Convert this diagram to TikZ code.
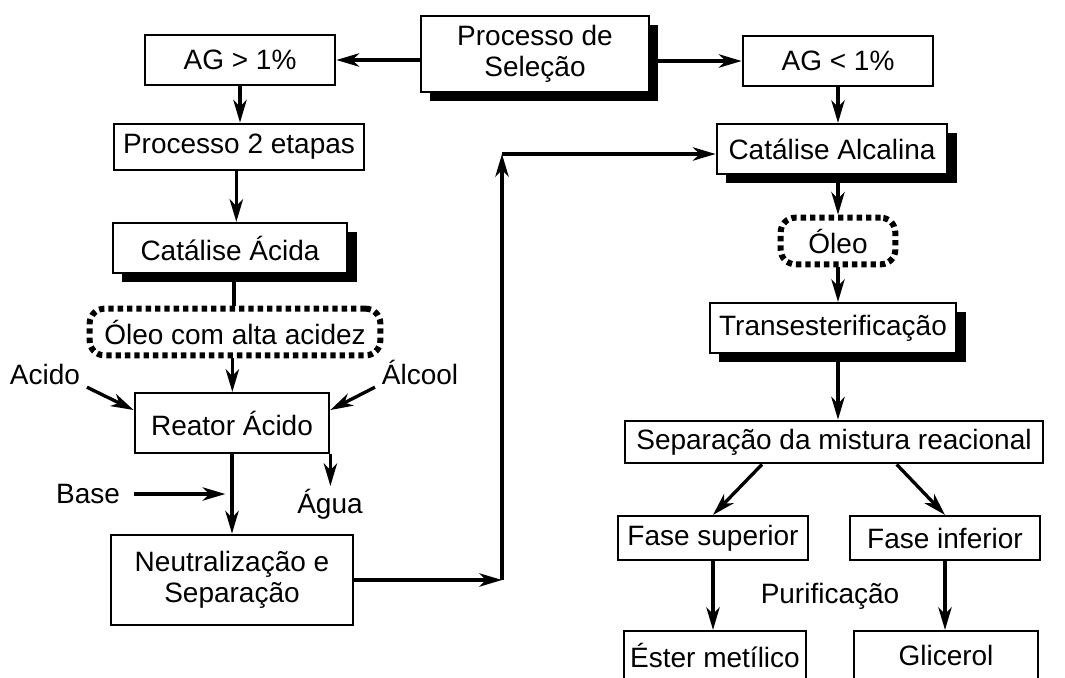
\documentclass[tikz,border=0pt]{standalone}
\usepackage{fontspec}
\setmainfont{Liberation Sans}
\usetikzlibrary{arrows.meta,shadows}

\tikzset{
  box/.style={draw, line width=1.6pt, fill=white, inner sep=0pt, align=center},
  shbox/.style={box, drop shadow={shadow xshift=7pt, shadow yshift=-7pt, fill=black, opacity=1}},
  oil/.style={draw, line width=4.5pt, dash pattern=on 4pt off 3pt, rounded corners=11pt, inner sep=0pt},
  lbl/.style={inner sep=2pt},
  arr/.style={line width=2.5pt, -{Stealth[length=17pt,width=10pt,inset=5pt]}},
  ln/.style={line width=2.5pt}
}

\begin{document}
\begin{tikzpicture}[x=0.75pt, y=-0.75pt, font=\fontsize{21pt}{23pt}\selectfont]

    \useasboundingbox (0,0) rectangle (1065,678);

    \node[shbox, minimum width=171pt, minimum height=57pt] (sel) at (535, 54) {Processo de\\Seleção};
    \node[box, minimum width=143pt, minimum height=37pt] (ag1) at (240, 60) {AG > 1\%};
    \node[box, minimum width=143pt, minimum height=37pt] (ag2) at (838, 61) {AG < 1\%};
    \node[box, minimum width=187pt, minimum height=35pt] (etapas) at (239, 147) {Processo 2 etapas};
    \node[shbox, minimum width=176pt, minimum height=37.5pt] (acida) at (230, 248) {Catálise Ácida};
    \node[shbox, minimum width=173pt, minimum height=37.5pt] (alcal) at (832, 149) {Catálise Alcalina};
    \node[oil, minimum width=86pt, minimum height=35pt] (oleo) at (838, 241) {Óleo};
    \node[oil, minimum width=218pt, minimum height=35pt] (oleoac) at (235, 332) {Óleo com alta acidez};
    \node[box, minimum width=146pt, minimum height=45pt] (reator) at (232, 423) {Reator Ácido};
    \node[box, minimum width=182pt, minimum height=68pt] (neutr) at (232, 580) {Neutralização e\\Separação};
    \node[shbox, minimum width=185pt, minimum height=37.5pt] (trans) at (833, 328) {Transesterificação};
    \node[box, minimum width=314pt, minimum height=32pt] (sepmix) at (834, 442) {Separação da mistura reacional};
    \node[box, minimum width=143pt, minimum height=33pt] (fsup) at (713, 538) {Fase superior};
    \node[box, minimum width=143pt, minimum height=33pt] (finf) at (945, 538) {Fase inferior};
    \node[box, minimum width=136.5pt, minimum height=36pt] (ester) at (715, 655) {Éster metílico};
    \node[box, minimum width=138pt, minimum height=36pt] (glic) at (946, 655) {Glicerol};

    \node[lbl] (acido) at (45, 374) {Acido};
    \node[lbl] (alcool) at (420, 372) {Álcool};
    \node[lbl] (base) at (88, 494) {Base};
    \node[lbl] (agua) at (330, 504) {Água};
    \node[lbl] (purif) at (830, 596) {Purificação};

    \coordinate (jn) at (502, 580);
    \coordinate (up) at (502, 154);

    \draw[arr] (sel.west |- ag1) -- (ag1.east);
    \draw[arr] (sel.east |- ag2) -- (ag2.west);
    \draw[arr] (ag1.south) -- (ag1 |- etapas.north);
    \draw[arr] ([xshift=-2pt]etapas.south) -- ([xshift=-2pt]etapas.south |- acida.north);
    \draw[ln] ([xshift=3pt]acida.south) -- ([xshift=3pt]acida.south |- oleoac.north);
    \draw[arr] ([xshift=-2pt]oleoac.south) -- ([xshift=-2pt]oleoac.south |- reator.north);
    \draw[arr] ([xshift=3pt]acido.south east) -- ([yshift=9.75pt]reator.west);
    \draw[arr] ([xshift=-3pt]alcool.south west) -- ([yshift=9.75pt]reator.east);
    \draw[arr] (reator.south) -- (neutr.north);
    \draw[arr] ([xshift=8pt]base.east) -- ([xshift=-5pt]reator.south |- base.east);
    \draw[arr] (reator.south east) -- (reator.south east |- agua.north);
    \draw[arr] (neutr.east |- jn) -- (jn);
    \draw[arr] (jn) -- (up);
    \draw[arr] (up) -- (alcal.west |- up);

    \draw[arr] (ag2.south) -- (ag2 |- alcal.north);
    \draw[arr] (oleo |- alcal.south) -- (oleo.north);
    \draw[arr] (oleo.south) -- (oleo |- trans.north);
    \draw[arr] (oleo |- trans.south) -- (oleo |- sepmix.north);
    \draw[arr] ([xshift=-54pt]sepmix.south) -- (fsup.north);
    \draw[arr] ([xshift=47pt]sepmix.south) -- (finf.north);
    \draw[arr] (fsup.south) -- (fsup |- ester.north);
    \draw[arr] (finf.south) -- (finf |- glic.north);

\end{tikzpicture}
\end{document}
